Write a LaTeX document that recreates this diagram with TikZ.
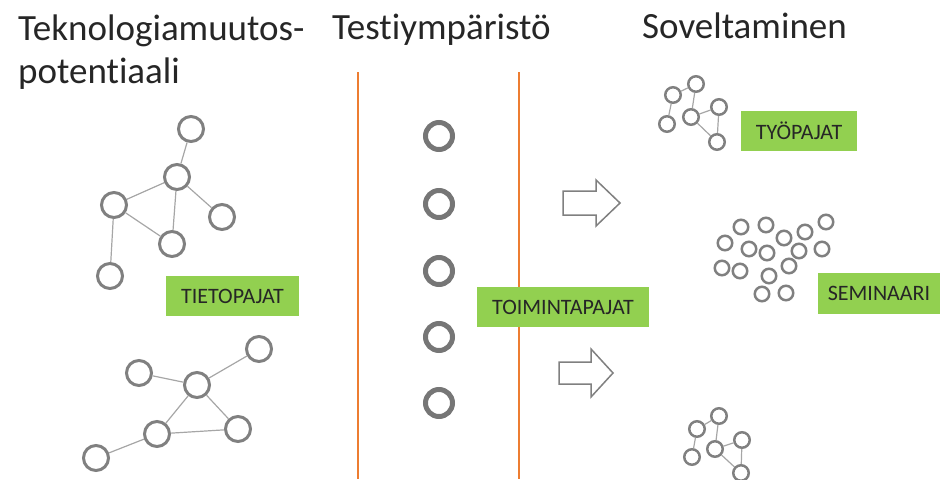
\documentclass[tikz,border=0pt]{standalone}
\usepackage{fontspec}
\setmainfont{Carlito}[Ligatures=NoCommon]
\definecolor{netgray}{HTML}{808080}
\definecolor{edgegray}{HTML}{A6A6A6}
\definecolor{ringgray}{HTML}{767676}
\definecolor{orangeline}{HTML}{ED7D31}
\definecolor{boxgreen}{HTML}{92D050}
\definecolor{txt}{HTML}{262626}
\begin{document}
\begin{tikzpicture}[x=1pt,y=-1pt,
  bignode/.style={circle,draw=netgray,line width=3pt,minimum size=25pt,inner sep=0pt},
  ring/.style={circle,draw=ringgray,line width=5pt,minimum size=27pt,inner sep=0pt},
  smallnode/.style={circle,draw=netgray,line width=2.5pt,minimum size=15.5pt,inner sep=0pt},
  seminode/.style={circle,draw=netgray,line width=2.5pt,minimum size=14.5pt,inner sep=0pt},
  link/.style={draw=edgegray,line width=1.2pt},
  title/.style={anchor=base west,inner sep=0pt,text=black!85,font=\fontsize{37}{44}\selectfont},
  label/.style={fill=boxgreen,text=txt,inner sep=0pt,font=\fontsize{22}{26}\selectfont,minimum height=40pt},
  divider/.style={draw=orangeline,line width=2pt},
  blockarrow/.style={draw=netgray,fill=white,line width=1.5pt,line join=miter}
]
\useasboundingbox (0,0) rectangle (941,479);

% titles
\node[title] (t1) at (18,40) {Teknologiamuutos-};
\node[title] (t1b) at (18,83) {potentiaali};
\node[title] (t2) at (332,39) {Testiympäristö};
\node[title] (t3) at (642,38) {Soveltaminen};

% dividers
\coordinate (d1a) at (358,72); \coordinate (d1b) at (358,479);
\coordinate (d2a) at (519,72); \coordinate (d2b) at (519,479);
\draw[divider] (d1a) -- (d1b);
\draw[divider] (d2a) -- (d2b);

% network 1
\node[bignode] (a) at (191,129) {};
\node[bignode] (b) at (177,177) {};
\node[bignode] (c) at (114,205) {};
\node[bignode] (d) at (222,217) {};
\node[bignode] (e) at (172,244) {};
\node[bignode] (f) at (110,276) {};
\draw[link] (a) -- (b);
\draw[link] (b) -- (c);
\draw[link] (b) -- (e);
\draw[link] (b) -- (d);
\draw[link] (c) -- (e);
\draw[link] (c) -- (f);

% network 2
\node[bignode] (g) at (259,349) {};
\node[bignode] (h) at (139,373) {};
\node[bignode] (i) at (197,385) {};
\node[bignode] (j) at (238,429) {};
\node[bignode] (k) at (157,434) {};
\node[bignode] (l) at (96,458) {};
\draw[link] (g) -- (i);
\draw[link] (h) -- (i);
\draw[link] (i) -- (k);
\draw[link] (i) -- (j);
\draw[link] (k) -- (j);
\draw[link] (k) -- (l);

% rings
\node[ring] (r1) at (439,136) {};
\node[ring] (r2) at (439,204) {};
\node[ring] (r3) at (439,271) {};
\node[ring] (r4) at (439,337) {};
\node[ring] (r5) at (439,403) {};

% arrows
\draw[blockarrow] (563,191) -- (596,191) -- (596,180) -- (620,203) -- (596,226) -- (596,215) -- (563,215) -- cycle;
\draw[blockarrow] (559,362) -- (591,362) -- (591,349) -- (613,373) -- (591,397) -- (591,384) -- (559,384) -- cycle;

% small network top
\node[smallnode] (n1) at (696,84) {};
\node[smallnode] (n2) at (673,95) {};
\node[smallnode] (n3) at (719,107) {};
\node[smallnode] (n4) at (691,117) {};
\node[smallnode] (n5) at (667,124) {};
\node[smallnode] (n6) at (717,142) {};
\draw[link] (n2) -- (n1);
\draw[link] (n1) -- (n4);
\draw[link] (n2) -- (n5);
\draw[link] (n4) -- (n3);
\draw[link] (n3) -- (n6);
\draw[link] (n4) -- (n6);

% small network bottom
\node[smallnode] (m1) at (719,416) {};
\node[smallnode] (m2) at (697,429) {};
\node[smallnode] (m3) at (742,440) {};
\node[smallnode] (m4) at (715,449) {};
\node[smallnode] (m5) at (692,457) {};
\node[smallnode] (m6) at (741,473) {};
\draw[link] (m2) -- (m1);
\draw[link] (m1) -- (m4);
\draw[link] (m2) -- (m5);
\draw[link] (m4) -- (m3);
\draw[link] (m3) -- (m6);
\draw[link] (m4) -- (m6);

% seminar cluster
\node[seminode] (s1) at (741,227) {};
\node[seminode] (s2) at (766,225) {};
\node[seminode] (s3) at (826,222) {};
\node[seminode] (s4) at (805,232) {};
\node[seminode] (s5) at (784,238) {};
\node[seminode] (s6) at (725,243) {};
\node[seminode] (s7) at (749,249) {};
\node[seminode] (s8) at (767,253) {};
\node[seminode] (s9) at (799,251) {};
\node[seminode] (s10) at (822,249) {};
\node[seminode] (s11) at (722,268) {};
\node[seminode] (s12) at (740,271) {};
\node[seminode] (s13) at (789,266) {};
\node[seminode] (s14) at (769,276) {};
\node[seminode] (s15) at (762,294) {};
\node[seminode] (s16) at (786,293) {};

% labels
\node[label,minimum width=133pt] (tieto) at (232.5,296) {TIETOPAJAT};
\node[label,minimum width=172pt] (toiminta) at (563,307) {TOIMINTAPAJAT};
\node[label,minimum width=116pt] (tyo) at (799,131) {TYÖPAJAT};
\node[label,minimum width=122pt,minimum height=41pt] (semi) at (879,293.5) {SEMINAARI};
\end{tikzpicture}
\end{document}
